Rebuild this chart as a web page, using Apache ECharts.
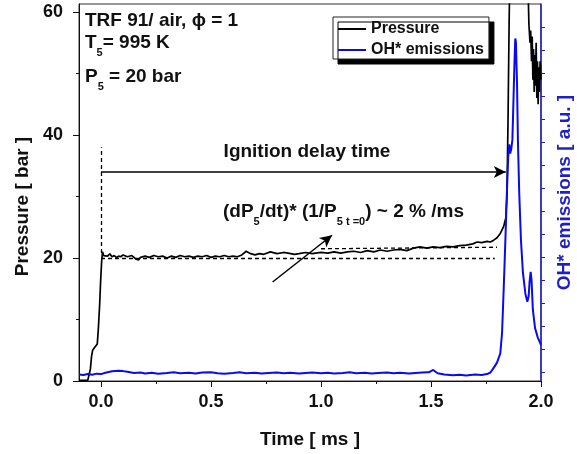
<!DOCTYPE html>
<html><head><meta charset="utf-8">
<script src="https://cdn.jsdelivr.net/npm/echarts@6/dist/echarts.min.js"></script>
<style>html,body{margin:0;padding:0;background:#fff}#c{width:577px;height:454px}</style>
</head><body><div id="c"></div>
<script>
// Pressure trace [time ms, pressure bar]
const pressureData = [
 [-0.1,0.1],[-0.08,0.1],[-0.06,0.15],[-0.053,0.2],[-0.048,2.0],[-0.043,4.0],[-0.038,5.0],[-0.03,5.4],
 [-0.022,5.5],[-0.017,6.0],[-0.012,8.5],[-0.006,12.5],[-0.002,16.0],[0.003,19.5],[0.007,21.0],[0.012,20.4],
 [0.02,20.6],[0.03,20.3],[0.04,20.7],[0.05,20.2],[0.06,20.4],[0.07,20.1],[0.08,20.3],[0.09,20.2],
 [0.1,20.5],[0.12,20.2],[0.14,20.4],[0.16,19.8],[0.17,19.7],[0.18,20.1],[0.2,20.3],[0.22,20.1],
 [0.24,20.4],[0.26,20.2],[0.28,20.3],[0.3,20.0],[0.32,20.3],[0.34,20.1],[0.36,20.4],[0.38,20.2],
 [0.4,20.3],[0.42,20.1],[0.44,20.3],[0.46,20.2],[0.48,20.4],[0.5,20.1],[0.52,20.3],[0.54,20.2],
 [0.56,20.4],[0.58,20.2],[0.6,20.3],[0.62,20.2],[0.64,20.5],[0.66,21.1],[0.68,20.7],[0.7,20.5],
 [0.72,20.7],[0.74,20.6],[0.77,21.0],[0.8,20.7],[0.83,20.9],[0.85,20.8],[0.88,20.6],[0.9,20.7],
 [0.93,20.9],[0.96,20.7],[1.0,20.9],[1.03,20.8],[1.06,21.0],[1.09,20.8],[1.12,21.0],[1.15,21.1],
 [1.18,20.9],[1.21,21.2],[1.24,21.0],[1.27,21.3],[1.3,21.1],[1.33,21.3],[1.36,21.4],[1.39,21.2],
 [1.42,21.6],[1.45,21.8],[1.48,21.6],[1.51,21.8],[1.54,21.7],[1.57,21.9],[1.6,21.8],[1.63,22.0],
 [1.66,22.1],[1.69,22.3],[1.71,22.6],[1.73,22.5],[1.755,22.7],[1.77,22.6],[1.785,22.9],[1.8,23.3],
 [1.815,24.0],[1.83,25.1],[1.84,26.5],[1.845,30],[1.85,42],[1.855,58],[1.86,70],[1.9,75],
 [1.94,66],[1.945,58],[1.95,55],[1.953,57],[1.957,52],[1.96,56],[1.963,49],[1.966,54],
 [1.969,47],[1.972,53],[1.975,48],[1.978,55],[1.981,46],[1.984,52],[1.987,45],[1.99,51],
 [1.993,47],[1.996,52],[2.0,49]
];
// OH* emission trace [time ms, a.u.]
const ohData = [
 [-0.1,-0.12],[-0.08,-0.14],[-0.06,-0.1],[-0.04,-0.13],[-0.02,-0.08],[0.0,-0.1],[0.02,-0.04],[0.05,0.02],
 [0.08,0.05],[0.1,0.03],[0.12,0.0],[0.15,-0.05],[0.18,-0.03],[0.2,-0.07],[0.23,-0.04],[0.26,-0.08],
 [0.3,-0.05],[0.33,-0.02],[0.36,-0.06],[0.4,-0.04],[0.43,-0.07],[0.46,-0.03],[0.5,-0.02],[0.53,-0.06],
 [0.56,-0.08],[0.6,-0.05],[0.63,-0.02],[0.66,-0.06],[0.7,-0.04],[0.73,-0.07],[0.76,-0.05],[0.8,-0.03],
 [0.83,-0.06],[0.86,-0.04],[0.9,-0.07],[0.93,-0.05],[0.96,-0.03],[1.0,-0.06],[1.03,-0.04],[1.06,-0.07],
 [1.1,-0.05],[1.13,-0.02],[1.16,-0.06],[1.2,-0.04],[1.23,-0.07],[1.26,-0.05],[1.3,-0.03],[1.33,-0.06],
 [1.36,-0.04],[1.4,-0.07],[1.43,-0.05],[1.46,-0.03],[1.49,-0.02],[1.51,0.08],[1.53,-0.06],[1.56,-0.12],
 [1.6,-0.15],[1.63,-0.13],[1.66,-0.16],[1.7,-0.12],[1.73,-0.14],[1.755,-0.1],[1.77,-0.03],[1.785,0.17],
 [1.8,0.4],[1.815,0.8],[1.823,1.7],[1.827,2.7],[1.833,4.3],[1.839,6.0],[1.845,7.8],[1.851,9.35],
 [1.856,9.9],[1.86,9.5],[1.865,9.7],[1.87,10.1],[1.874,11.5],[1.879,13.3],[1.883,14.5],[1.886,14.35],
 [1.891,12.55],[1.895,10.1],[1.901,7.8],[1.909,5.7],[1.918,4.3],[1.929,3.4],[1.938,3.05],[1.944,3.3],
 [1.948,3.9],[1.953,4.35],[1.957,4.0],[1.963,2.7],[1.973,1.9],[1.985,1.5],[2.0,1.17]
];
const xMajorTicks = [0, 0.5, 1.0, 1.5, 2.0];
const xMinorTicks = [0.25, 0.75, 1.25, 1.75];
const yMajorTicks = [0, 20, 40, 60];
const yMinorTicks = [10, 30, 50];
const ohTicks = [0,1,2,3,4,5,6,7,8,9,10,11,12,13,14,15];
// annotation geometry in data units
const delayArrow = [[0, 34], [1.84, 34]];
const slopeArrow = [[0.78, 16.1], [1.05, 23.7]];
const t0Marker = [[0, 20.8], [0, 38]];
const baseLine = [[0, 19.9], [1.79, 19.9]];
const fitLine = [[1.0, 21.5], [1.8, 21.75]];

const FONT = "'Liberation Sans', Arial, sans-serif";
const BLUE = '#0a0af0';
const AXBLUE = '#1f1fc8';
const chart = echarts.init(document.getElementById('c'));
const tickLabel = {fontSize: 18, fontWeight: 'bold', fontFamily: FONT, color: '#111'};
const subStyle = {fontSize: 11, fontWeight: 'bold', fontFamily: FONT, padding: [20, 0, 0, 0]};
const txt = (x, y, text, align) => ({
  type: 'text', x: x, y: y, z: 50,
  style: {text: text, fill: '#111', fontSize: 19, fontWeight: 'bold', fontFamily: FONT,
          align: align || 'left', verticalAlign: 'middle', rich: {sub: subStyle}}
});
const seg = (p) => [{coord: p[0]}, {coord: p[1]}];

chart.setOption({
  animation: false,
  grid: {left: 79, right: 36, top: 4, bottom: 73, show: true, borderColor: '#333', borderWidth: 1,
         backgroundColor: 'transparent', outerBoundsMode: 'none'},
  legend: {
    data: ['Pressure', 'OH* emissions'], orient: 'vertical', left: 333, top: 17,
    icon: 'rect', padding: [4, 5, 1, 5], itemGap: 5, itemWidth: 28, itemHeight: 2,
    backgroundColor: '#fff', borderColor: '#222', borderWidth: 1,
    shadowColor: '#000', shadowBlur: 0, shadowOffsetX: 5, shadowOffsetY: 5,
    textStyle: {fontSize: 16, fontWeight: 'bold', fontFamily: FONT, color: '#111', lineHeight: 16}
  },
  xAxis: [
    {type: 'value', min: -0.1, max: 2.0, position: 'bottom', splitLine: {show: false},
     axisLine: {onZero: false, lineStyle: {color: '#111', width: 1}},
     axisTick: {customValues: xMajorTicks, length: 6, lineStyle: {color: '#111'}},
     axisLabel: Object.assign({customValues: xMajorTicks, margin: 12, formatter: v => v.toFixed(1)}, tickLabel),
     name: 'Time [ ms ]', nameLocation: 'middle', nameGap: 49,
     nameTextStyle: {fontSize: 19, fontWeight: 'bold', fontFamily: FONT, color: '#111'}},
    {type: 'value', min: -0.1, max: 2.0, position: 'bottom', splitLine: {show: false},
     axisLine: {show: false, onZero: false},
     axisTick: {customValues: xMinorTicks, length: 3, lineStyle: {color: '#111'}},
     axisLabel: {show: false}}
  ],
  yAxis: [
    {type: 'value', min: 0, max: 61.3, position: 'left', splitLine: {show: false},
     axisLine: {show: true, onZero: false, lineStyle: {color: '#111', width: 1}},
     axisTick: {show: true, customValues: yMajorTicks, length: 6, lineStyle: {color: '#111'}},
     axisLabel: Object.assign({customValues: yMajorTicks, margin: 16}, tickLabel),
     name: 'Pressure [ bar ]', nameLocation: 'middle', nameGap: 45,
     nameTextStyle: {fontSize: 19, fontWeight: 'bold', fontFamily: FONT, color: '#111', padding: [0, 28, 0, 0]}},
    {type: 'value', min: 0, max: 61.3, position: 'left', splitLine: {show: false},
     axisLine: {show: false, onZero: false},
     axisTick: {show: true, customValues: yMinorTicks, length: 3, lineStyle: {color: '#111'}},
     axisLabel: {show: false}},
    {type: 'value', min: -0.4, max: 16, position: 'right', splitLine: {show: false},
     axisLine: {show: true, onZero: false, lineStyle: {color: AXBLUE, width: 1.5}},
     axisTick: {show: true, customValues: ohTicks, length: 4, lineStyle: {color: AXBLUE}},
     axisLabel: {show: false},
     name: 'OH* emissions [ a.u. ]', nameLocation: 'middle', nameGap: 14,
     nameTextStyle: {fontSize: 19, fontWeight: 'bold', fontFamily: FONT, color: AXBLUE}}
  ],
  series: [
    {name: 'Pressure', type: 'line', xAxisIndex: 0, yAxisIndex: 0, data: pressureData,
     symbol: 'none', lineStyle: {color: '#000', width: 1.7}, itemStyle: {color: '#000'}, z: 3,
     markLine: {silent: true, symbol: ['none', 'arrow'], symbolSize: [9, 12], label: {show: false},
       lineStyle: {color: '#000', width: 1.5, type: 'solid'}, emphasis: {disabled: true},
       data: [seg(delayArrow), seg(slopeArrow)]}},
    {name: 'guides', type: 'line', xAxisIndex: 0, yAxisIndex: 0, data: [], symbol: 'none',
     markLine: {silent: true, symbol: ['none', 'none'], label: {show: false},
       lineStyle: {color: '#000', width: 1.3, type: [4, 3]}, emphasis: {disabled: true},
       data: [seg(t0Marker), seg(baseLine), seg(fitLine)]}},
    {name: 'OH* emissions', type: 'line', xAxisIndex: 0, yAxisIndex: 2, data: ohData,
     symbol: 'none', lineStyle: {color: BLUE, width: 2}, itemStyle: {color: BLUE}, z: 4}
  ],
  graphic: [
    txt(85, 21, 'TRF 91/ air, ϕ = 1'),
    txt(85, 43, 'T{sub|5}= 995 K'),
    txt(85, 77, 'P{sub|5} = 20 bar'),
    txt(307, 152, 'Ignition delay time', 'center'),
    txt(223, 212, '(dP{sub|5}/dt)* (1/P{sub|5 t =0}) ~ 2 % /ms')
  ]
});
</script></body></html>
